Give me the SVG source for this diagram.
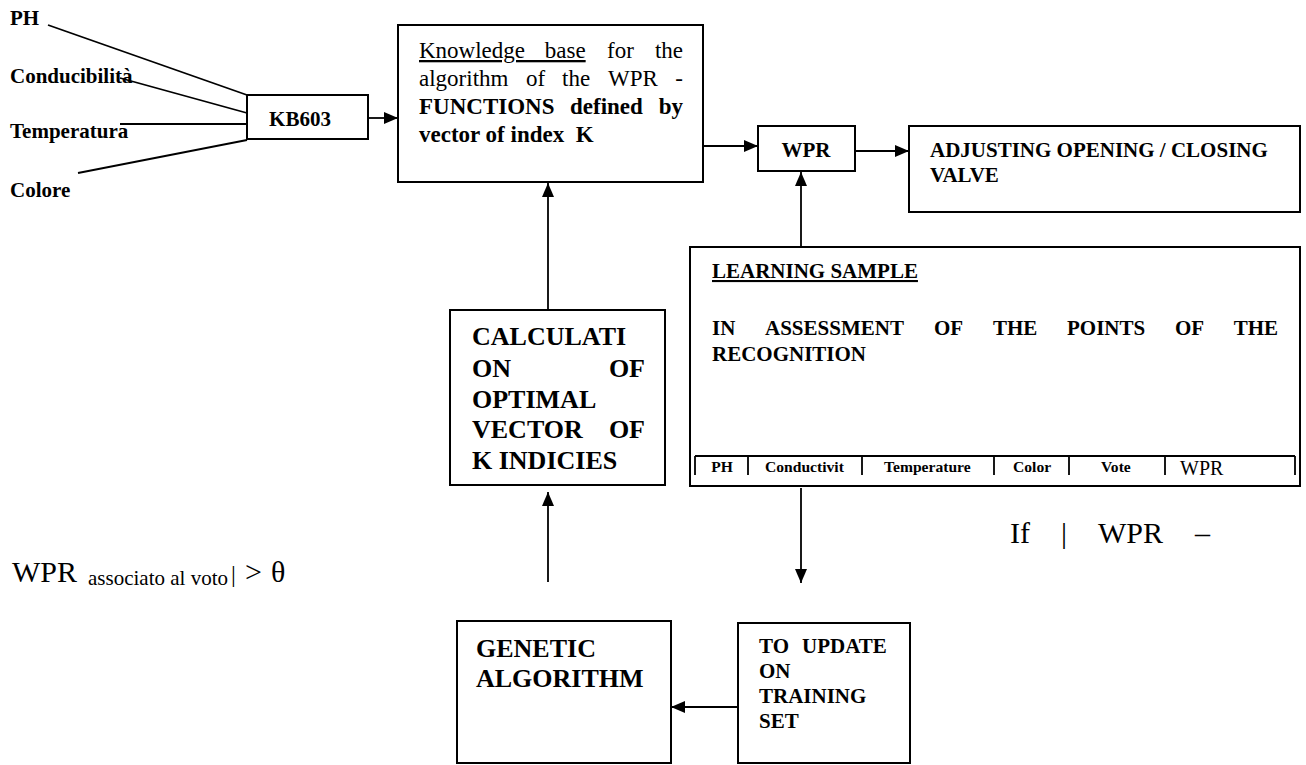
<svg xmlns="http://www.w3.org/2000/svg" width="1306" height="765" viewBox="0 0 1306 765" font-family="'Liberation Serif', 'Times New Roman', serif">
  <defs>
    <marker id="arrow" markerUnits="userSpaceOnUse" markerWidth="14" markerHeight="12" refX="14" refY="6" orient="auto">
      <path d="M0,0 L14,6 L0,12 z" fill="#000"/>
    </marker>
    <style>
      text { fill: #000; }
      .b { font-weight: bold; }
      .box { fill: #fff; stroke: #000; stroke-width: 2; }
      .ln { fill: none; stroke: #000; stroke-width: 1.8; }
      .arr { fill: none; stroke: #000; stroke-width: 1.8; marker-end: url(#arrow); }
      .f21 { font-size: 21px; }
      .f23 { font-size: 23px; }
      .f26 { font-size: 26px; }
      .f30 { font-size: 30px; }
      .cell { font-size: 15.6px; font-weight: bold; }
    </style>
  </defs>
  <rect width="1306" height="765" fill="#fff"/>

  <!-- sensor input labels -->
  <g id="inputs">
    <text class="b f21" x="10" y="25">PH</text>
    <text class="b f21" x="10" y="83">Conducibilità</text>
    <text class="b f21" x="10" y="138">Temperatura</text>
    <text class="b f21" x="10" y="197">Colore</text>
  </g>

  <!-- connectors -->
  <g id="connectors">
    <line class="ln" x1="48" y1="25" x2="247" y2="95"/>
    <line class="ln" x1="120" y1="78" x2="247" y2="113"/>
    <line class="ln" x1="120" y1="124" x2="247" y2="124"/>
    <line class="ln" x1="78" y1="173" x2="247" y2="140"/>
    <line class="arr" x1="368" y1="118" x2="398" y2="118"/>
    <line class="arr" x1="703" y1="146" x2="758" y2="146"/>
    <line class="arr" x1="855" y1="151" x2="909" y2="151"/>
    <line class="arr" x1="801" y1="247" x2="801" y2="172"/>
    <line class="arr" x1="801" y1="488" x2="801" y2="583"/>
    <line class="arr" x1="738" y1="707" x2="671" y2="707"/>
    <line class="arr" x1="548" y1="582" x2="548" y2="492"/>
    <line class="arr" x1="548" y1="310" x2="548" y2="183"/>
  </g>

  <g id="kb603">
    <rect class="box" x="247" y="95" width="121" height="44"/>
    <text class="b f21" x="300" y="126" text-anchor="middle">KB603</text>
  </g>

  <g id="knowledge-base">
    <rect class="box" x="398" y="25" width="305" height="157"/>
    <text class="f23" y="58"><tspan x="419" text-decoration="underline" word-spacing="14">Knowledge base</tspan><tspan x="607">for</tspan><tspan x="683" text-anchor="end">the</tspan></text>
    <text class="f23" y="86"><tspan x="419">algorithm</tspan><tspan x="526">of</tspan><tspan x="562">the</tspan><tspan x="608">WPR</tspan><tspan x="683" text-anchor="end">-</tspan></text>
    <text class="b f23" y="114"><tspan x="419">FUNCTIONS</tspan><tspan x="570">defined</tspan><tspan x="683" text-anchor="end">by</tspan></text>
    <text class="b f23" x="419" y="142" xml:space="preserve">vector of index  K</text>
  </g>

  <g id="wpr">
    <rect class="box" x="758" y="126" width="97" height="45"/>
    <text class="b f21" x="806" y="157" text-anchor="middle">WPR</text>
  </g>

  <g id="valve">
    <rect class="box" x="909" y="126" width="391" height="86"/>
    <text class="b f21" x="930" y="157">ADJUSTING OPENING / CLOSING</text>
    <text class="b f21" x="930" y="182">VALVE</text>
  </g>

  <g id="learning-sample">
    <rect class="box" x="690" y="247" width="610" height="239"/>
    <text class="b f21" x="712" y="278" text-decoration="underline">LEARNING SAMPLE</text>
    <text class="b f21" y="335"><tspan x="712">IN</tspan><tspan x="765">ASSESSMENT</tspan><tspan x="934">OF</tspan><tspan x="993">THE</tspan><tspan x="1067">POINTS</tspan><tspan x="1175">OF</tspan><tspan x="1278" text-anchor="end">THE</tspan></text>
    <text class="b f21" x="712" y="361">RECOGNITION</text>
    <!-- sample record columns -->
    <path class="ln" stroke-width="2.5" d="M695,456 H1295"/>
    <path class="ln" d="M695,456 V475 M748,456 V475 M862,456 V475 M994,456 V475 M1069,456 V475 M1165,456 V475 M1295,456 V475"/>
    <text class="cell" x="722" y="472" text-anchor="middle">PH</text>
    <text class="cell" x="765" y="472">Conductivit</text>
    <text class="cell" x="884" y="472">Temperature</text>
    <text class="cell" x="1013" y="472">Color</text>
    <text class="cell" x="1101" y="472">Vote</text>
    <text x="1180" y="475" font-size="20">WPR</text>
  </g>

  <g id="calculation">
    <rect class="box" x="450" y="310" width="215" height="175"/>
    <text class="b f26" x="472" y="345">CALCULATI</text>
    <text class="b f26" y="377"><tspan x="472">ON</tspan><tspan x="645" text-anchor="end">OF</tspan></text>
    <text class="b f26" x="472" y="408">OPTIMAL</text>
    <text class="b f26" y="438"><tspan x="472">VECTOR</tspan><tspan x="645" text-anchor="end">OF</tspan></text>
    <text class="b f26" x="472" y="469">K INDICIES</text>
  </g>

  <g id="genetic-algorithm">
    <rect class="box" x="457" y="621" width="214" height="142"/>
    <text class="b f26" x="476" y="657">GENETIC</text>
    <text class="b f26" x="476" y="687">ALGORITHM</text>
  </g>

  <g id="training-update">
    <rect class="box" x="738" y="623" width="172" height="140"/>
    <text class="b f21" y="653"><tspan x="759">TO</tspan><tspan x="802">UPDATE</tspan></text>
    <text class="b f21" x="759" y="678">ON</text>
    <text class="b f21" x="759" y="703">TRAINING</text>
    <text class="b f21" x="759" y="728">SET</text>
  </g>

  <!-- threshold condition -->
  <g id="condition">
    <text class="f30" y="543"><tspan x="1010">If</tspan><tspan x="1061">|</tspan><tspan x="1098">WPR</tspan><tspan x="1195">–</tspan></text>
    <text class="f30" y="582"><tspan x="12">WPR</tspan><tspan x="88" y="585" font-size="21">associato al voto</tspan><tspan x="231" y="582" font-size="24">|</tspan><tspan x="245" y="582">&gt;</tspan><tspan x="271" y="582">θ</tspan></text>
  </g>
</svg>
